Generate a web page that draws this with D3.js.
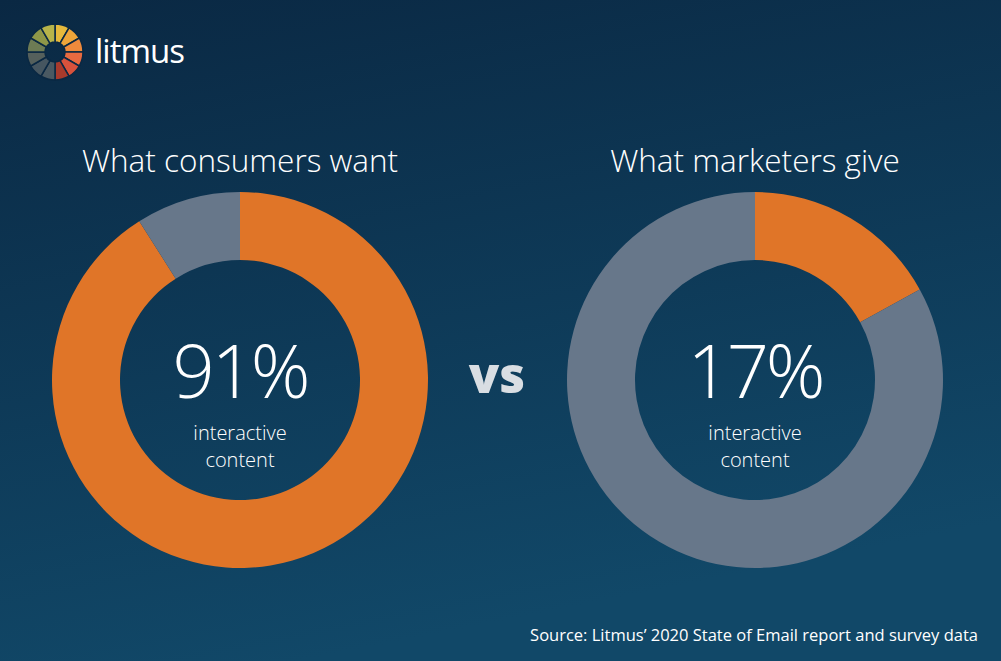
<!DOCTYPE html>
<html><head><meta charset="utf-8">
<script src="https://cdn.jsdelivr.net/npm/d3@7"></script>
<style>body{margin:0;overflow:hidden}text{font-family:"Open Sans",Lato,sans-serif}</style>
</head><body><svg id="c" width="1001" height="661"></svg>
<script>
const titles = ["What consumers want", "What marketers give"];
const shares = [91, 17];
const subLabel = ["interactive", "content"];
const source = "Source: Litmus’ 2020 State of Email report and survey data";
const logoColors = ["#e6b93c","#eea53a","#ee8a3c","#e86a40","#d8523c","#a83a2c","#4a5962","#465660","#55605c","#6d7b54","#8e9748","#b7b44a"];

const svg = d3.select("#c");
const defs = svg.append("defs");
const g = defs.append("linearGradient").attr("id","bg").attr("x1",0).attr("y1",0).attr("x2",0.3).attr("y2",1);
g.append("stop").attr("offset",0).attr("stop-color","#0a2843");
g.append("stop").attr("offset",1).attr("stop-color","#114868");
svg.append("rect").attr("width",1001).attr("height",661).attr("fill","url(#bg)");

// logo
const logo = svg.append("g").attr("transform","translate(55,52)");
const lp = d3.pie().sort(null).value(1)(logoColors);
logo.selectAll("path").data(lp).join("path")
  .attr("d", d3.arc().innerRadius(10).outerRadius(28))
  .attr("fill", d => d.data).attr("stroke","#0a2843").attr("stroke-width",1.5);
svg.append("text").attr("x",95).attr("y",63).attr("fill","#fff")
  .attr("font-size",33).attr("font-weight",400).attr("letter-spacing",-1).text("litmus");

const x = d3.scalePoint().domain([0,1]).range([240,755]);
const arc = d3.arc().innerRadius(120).outerRadius(188);
const pie = d3.pie().sort(null).value(d => d);

shares.forEach((s,i) => {
  const cx = x(i);
  const grp = svg.append("g").attr("transform",`translate(${cx},380)`);
  grp.selectAll("path").data(pie([s,100-s])).join("path")
    .attr("d",arc).attr("fill",(d,j) => j===0 ? "#e07528" : "#67778a");
  svg.append("text").attr("x",cx).attr("y",172).attr("text-anchor","middle")
    .attr("fill","#fff").attr("font-size",31.5).attr("font-weight",300).text(titles[i]);
  grp.append("text").attr("y",18).attr("text-anchor","middle").attr("fill","#fff")
    .attr("font-size",74).attr("font-weight",300).attr("letter-spacing",-3).text(s+"%");
  subLabel.forEach((t,k) => grp.append("text").attr("y",60+k*27).attr("text-anchor","middle")
    .attr("fill","#fff").attr("font-size",20).attr("font-weight",300).text(t));
});

svg.append("text").attr("x",497).attr("y",393).attr("text-anchor","middle")
  .attr("fill","#d9dee3").attr("font-size",50).attr("font-weight",800).text("vs");
svg.append("text").attr("x",978).attr("y",641).attr("text-anchor","end")
  .attr("fill","#fff").attr("font-size",16.5).text(source);
</script></body></html>
